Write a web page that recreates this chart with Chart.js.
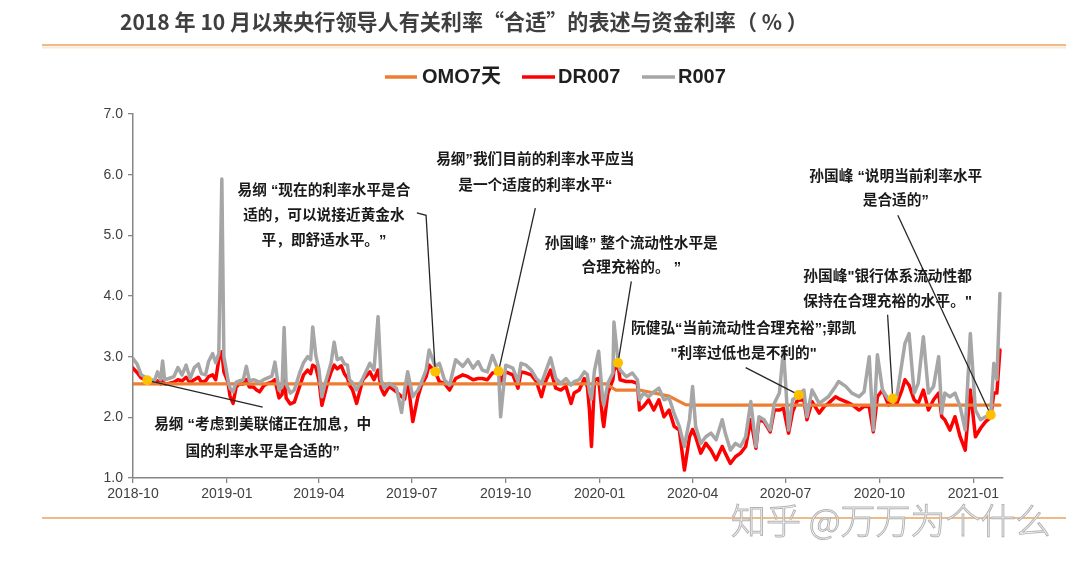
<!DOCTYPE html>
<html><head><meta charset="utf-8">
<script src="https://cdn.jsdelivr.net/npm/chart.js@4.4.1/dist/chart.umd.min.js"></script>
<style>html,body{margin:0;padding:0;background:#fff;}#wrap{width:1080px;height:568px;}</style>
</head><body><div id="wrap"><canvas id="c" width="1080" height="568"></canvas></div>
<script>
const titleText = '2018 年 10 月以来央行领导人有关利率“合适”的表述与资金利率（ % ）';
const seriesNames = ['OMO7天', 'DR007', 'R007'];
const watermark = '知乎 @万万为个什么';
const tickLabels = ['2018-10','2019-01','2019-04','2019-07','2019-10','2020-01','2020-04','2020-07','2020-10','2021-01'];
const yTicks = [1, 7, 1]; // min, max, step

const dates = [
'2018-10-01','2018-10-05','2018-10-09','2018-10-15','2018-10-19','2018-10-22','2018-10-25','2018-10-28','2018-10-30','2018-11-01','2018-11-05','2018-11-10','2018-11-14','2018-11-18','2018-11-22','2018-11-26','2018-11-30','2018-12-04','2018-12-07','2018-12-11','2018-12-14','2018-12-18','2018-12-21','2018-12-24','2018-12-27','2018-12-29',
'2019-01-02','2019-01-04','2019-01-07','2019-01-10','2019-01-13','2019-01-17','2019-01-20','2019-01-23','2019-01-27','2019-01-30',
'2019-02-02','2019-02-06','2019-02-10','2019-02-14','2019-02-17','2019-02-21','2019-02-24','2019-02-26','2019-02-28',
'2019-03-04','2019-03-08','2019-03-13','2019-03-17','2019-03-21','2019-03-24','2019-03-26','2019-03-29',
'2019-04-01','2019-04-04','2019-04-07','2019-04-10','2019-04-13','2019-04-16','2019-04-19','2019-04-23','2019-04-26','2019-04-29',
'2019-05-01','2019-05-04','2019-05-08','2019-05-14','2019-05-21','2019-05-25','2019-05-29',
'2019-06-01','2019-06-04','2019-06-09','2019-06-16','2019-06-21','2019-06-24','2019-06-27',
'2019-07-02','2019-07-07','2019-07-10','2019-07-15','2019-07-18','2019-07-24','2019-07-28',
'2019-08-02','2019-08-07','2019-08-13','2019-08-20','2019-08-25','2019-08-30',
'2019-09-04','2019-09-08','2019-09-13','2019-09-18','2019-09-24','2019-09-26',
'2019-10-01','2019-10-08','2019-10-13','2019-10-16','2019-10-21','2019-10-26','2019-10-31',
'2019-11-05','2019-11-09','2019-11-14','2019-11-19','2019-11-24','2019-11-29',
'2019-12-04','2019-12-07','2019-12-12','2019-12-17','2019-12-20','2019-12-22','2019-12-24','2019-12-27','2019-12-31',
'2020-01-04','2020-01-05','2020-01-09','2020-01-14','2020-01-15','2020-01-19','2020-01-21','2020-01-27',
'2020-02-02','2020-02-07','2020-02-09','2020-02-13','2020-02-18','2020-02-23','2020-02-28',
'2020-03-04','2020-03-09','2020-03-14','2020-03-19','2020-03-24','2020-03-29',
'2020-04-01','2020-04-04','2020-04-09','2020-04-14','2020-04-19','2020-04-24','2020-04-30',
'2020-05-03','2020-05-08','2020-05-13','2020-05-18','2020-05-23','2020-05-28',
'2020-06-02','2020-06-05','2020-06-10','2020-06-16','2020-06-20','2020-06-25','2020-06-29',
'2020-07-04','2020-07-08','2020-07-12','2020-07-14','2020-07-19','2020-07-22','2020-07-27',
'2020-08-03','2020-08-08','2020-08-12','2020-08-19','2020-08-22','2020-08-29',
'2020-09-04','2020-09-11','2020-09-16','2020-09-21','2020-09-25','2020-09-29',
'2020-10-04','2020-10-10','2020-10-14','2020-10-18','2020-10-23','2020-10-26','2020-10-30',
'2020-11-04','2020-11-08','2020-11-13','2020-11-18','2020-11-23','2020-11-28',
'2020-12-01','2020-12-04','2020-12-09','2020-12-14','2020-12-19','2020-12-24','2020-12-29',
'2021-01-03','2021-01-08','2021-01-13','2021-01-18','2021-01-21','2021-01-24','2021-01-27'
];

const r007 = [
2.97,2.88,2.70,2.64,2.62,2.60,2.75,2.62,2.93,2.62,2.64,2.67,2.82,2.70,2.86,2.64,2.82,2.88,2.72,2.70,2.92,3.05,2.90,3.05,5.93,3.00,
2.62,2.48,2.42,2.58,2.60,2.62,2.84,2.60,2.62,2.60,
2.58,2.62,2.65,2.68,2.91,2.45,2.50,3.48,2.55,
2.40,2.45,2.72,2.90,3.00,2.95,3.49,3.02,
2.80,2.34,2.55,2.72,2.90,3.24,2.95,2.98,2.88,2.86,
2.62,2.57,2.45,2.64,2.89,2.78,3.66,
2.62,2.48,2.56,2.48,2.08,2.45,2.75,
2.34,2.45,2.56,2.78,3.11,2.84,2.89,
2.62,2.53,2.95,2.84,2.95,2.81,
2.92,2.78,2.75,3.02,2.76,2.01,
2.86,2.81,2.59,2.89,2.86,2.78,2.64,
2.56,2.75,2.98,2.64,2.56,2.64,
2.53,2.59,2.62,2.75,2.70,2.42,2.30,2.78,3.09,
2.29,2.20,2.56,2.73,3.57,2.92,2.78,2.67,
2.73,2.62,2.29,2.40,2.34,2.42,2.48,
2.29,2.32,2.06,1.85,1.52,1.96,
2.51,1.85,1.57,1.68,1.74,1.63,1.96,
1.74,1.46,1.57,1.52,1.68,2.26,
1.52,2.01,1.96,1.79,2.23,2.40,3.11,
1.79,2.29,2.34,2.37,2.45,2.01,2.45,
2.23,2.29,2.34,2.51,2.59,2.51,
2.40,2.34,2.42,3.00,1.79,3.03,
2.45,2.29,2.31,2.34,2.89,3.22,3.38,
2.40,2.56,3.33,2.40,2.51,3.00,
2.07,2.40,2.34,2.40,2.18,1.79,3.38,
2.12,1.96,2.01,2.04,2.89,2.62,4.04
];

const dr007 = [
2.81,2.74,2.65,2.61,2.58,2.56,2.60,2.55,2.60,2.55,2.56,2.58,2.62,2.60,2.66,2.57,2.62,2.66,2.58,2.60,2.67,2.70,2.62,2.95,3.08,2.75,
2.58,2.35,2.23,2.50,2.55,2.55,2.62,2.50,2.50,2.45,
2.42,2.52,2.56,2.58,2.62,2.32,2.38,2.70,2.32,
2.22,2.25,2.50,2.70,2.78,2.72,2.86,2.83,
2.62,2.20,2.40,2.60,2.75,2.86,2.80,2.85,2.72,2.65,
2.53,2.45,2.23,2.62,2.75,2.62,2.78,
2.48,2.37,2.51,2.42,2.34,2.30,2.62,
1.93,2.34,2.51,2.67,2.86,2.75,2.59,
2.56,2.45,2.64,2.70,2.67,2.62,
2.64,2.64,2.62,2.73,2.75,2.59,
2.75,2.70,2.48,2.75,2.73,2.70,2.59,
2.34,2.59,2.78,2.48,2.45,2.51,
2.23,2.40,2.45,2.64,2.50,2.12,1.52,2.62,2.64,
1.96,1.85,2.40,2.62,2.78,2.86,2.62,2.59,
2.59,2.56,2.12,2.18,2.29,2.12,2.29,
2.01,2.12,1.85,1.79,1.13,1.68,
1.80,1.68,1.41,1.57,1.46,1.30,1.52,
1.41,1.24,1.35,1.41,1.52,1.96,
1.49,1.96,1.93,1.76,2.12,2.12,2.15,
1.74,2.09,2.26,2.28,2.29,1.96,2.26,
2.07,2.18,2.23,2.34,2.31,2.26,
2.21,2.12,2.18,2.18,1.76,2.34,
2.45,2.20,2.28,2.23,2.45,2.62,2.53,
2.29,2.23,2.45,2.12,2.29,2.40,
2.01,1.96,1.79,2.01,1.68,1.46,2.45,
1.68,1.82,1.93,2.00,2.40,2.40,3.11
];

const omoDates  = ['2018-10-01','2020-01-07','2020-01-17','2020-02-09','2020-03-09','2020-03-25','2020-04-02','2021-01-27'];
const omoValues = [2.55, 2.55, 2.45, 2.45, 2.35, 2.21, 2.20, 2.20];

// remarks: marked point (date, value), text anchor and leader start in chart units
const notes = [
 {date:'2018-10-15', value:2.61, textDate:'2019-02-05', textValue:1.87, lineGap:27, from:['2019-02-05',2.17],
  lines:['易纲 “考虑到美联储正在加息，中','国的利率水平是合适的”']},
 {date:'2019-07-24', value:2.75, textDate:'2019-04-06', textValue:5.73, lineGap:25, from:['2019-07-06',5.37], elbow:['2019-07-15',5.33],
  lines:['易纲 “现在的利率水平是合','适的，可以说接近黄金水','平，即舒适水平。”']},
 {date:'2019-09-24', value:2.76, textDate:'2019-10-30', textValue:6.24, lineGap:26, from:['2019-10-30',5.45],
  lines:['易纲”我们目前的利率水平应当','是一个适度的利率水平“']},
 {date:'2020-01-19', value:2.90, textDate:'2020-02-01', textValue:4.86, lineGap:24, from:['2020-02-01',4.24],
  lines:['孙国峰” 整个流动性水平是','合理充裕的。 ”']},
 {date:'2020-07-14', value:2.37, textDate:'2020-05-21', textValue:3.46, lineGap:25, from:['2020-05-23',2.82],
  lines:['阮健弘“当前流动性合理充裕”;郭凯','"利率过低也是不利的"']},
 {date:'2020-10-14', value:2.31, textDate:'2020-10-09', textValue:4.31, lineGap:25, from:['2020-10-09',3.69],
  lines:['孙国峰"银行体系流动性都','保持在合理充裕的水平。"']},
 {date:'2021-01-18', value:2.04, textDate:'2020-10-17', textValue:5.96, lineGap:24, from:['2020-10-19',5.33],
  lines:['孙国峰 “说明当前利率水平','是合适的”']}
];

const BASE = Date.UTC(2018, 9, 1);
function dayOf(s){ const p = s.split('-').map(Number); return (Date.UTC(p[0], p[1]-1, p[2] || 1) - BASE) / 864e5; }
const tickDays = tickLabels.map(s => dayOf(s + '-01'));
const xMax = dayOf('2021-01-30');

const COLORS = {omo:'#ED7D31', dr:'#FF0000', r:'#A6A6A6', dot:'#FFC000', axis:'#868686', text:'#404040', rule:'#E9A35F'};
const LATIN = '"Liberation Sans", "Noto Sans CJK SC", sans-serif';
const CJK = '"Noto Sans CJK SC", sans-serif';

const decor = {
  id:'decor',
  beforeDatasetDraw(chart, args){
    if (args.index !== 3) return;
    const ctx = chart.ctx, xs = chart.scales.x, ys = chart.scales.y;
    const P = (d, v) => [xs.getPixelForValue(dayOf(d)), ys.getPixelForValue(v)];
    ctx.save();
    ctx.strokeStyle = '#262626'; ctx.lineWidth = 1.3;
    notes.forEach(n => {
      ctx.beginPath();
      const a = P(n.from[0], n.from[1]); ctx.moveTo(a[0], a[1]);
      if (n.elbow) { const e = P(n.elbow[0], n.elbow[1]); ctx.lineTo(e[0], e[1]); }
      const b = P(n.date, n.value); ctx.lineTo(b[0], b[1]);
      ctx.stroke();
    });
    ctx.restore();
  },
  afterDatasetsDraw(chart){
    const ctx = chart.ctx, xs = chart.scales.x, ys = chart.scales.y;
    ctx.save();
    ctx.fillStyle = '#1a1a1a';
    ctx.font = 'bold 14.7px ' + LATIN;
    ctx.textAlign = 'center'; ctx.textBaseline = 'middle';
    notes.forEach(n => {
      const x = xs.getPixelForValue(dayOf(n.textDate));
      const y = ys.getPixelForValue(n.textValue);
      n.lines.forEach((t, i) => ctx.fillText(t, x, y + i * n.lineGap));
    });
    ctx.restore();
  },
  afterDraw(chart){
    const ctx = chart.ctx;
    ctx.save();
    // title
    ctx.fillStyle = '#3f3f3f';
    ctx.textAlign = 'left'; ctx.textBaseline = 'middle';
    ctx.font = 'bold 20px ' + CJK;
    const w = ctx.measureText(titleText).width;
    const fs = 20 * 688 / w;
    ctx.font = 'bold ' + fs.toFixed(2) + 'px ' + CJK;
    ctx.fillText(titleText, 120, 22);
    // rules
    ctx.strokeStyle = COLORS.rule; ctx.lineWidth = 1.6;
    ctx.beginPath(); ctx.moveTo(42, 45); ctx.lineTo(1066, 45); ctx.stroke();
    ctx.strokeStyle = 'rgba(233,163,95,0.25)'; ctx.lineWidth = 2;
    ctx.beginPath(); ctx.moveTo(42, 47.5); ctx.lineTo(1066, 47.5); ctx.stroke();
    ctx.strokeStyle = COLORS.rule; ctx.lineWidth = 1.6;
    ctx.beginPath(); ctx.moveTo(42, 518); ctx.lineTo(1066, 518); ctx.stroke();
    // legend
    const items = [[COLORS.omo, 385, 417, 422], [COLORS.dr, 522, 555, 558], [COLORS.r, 642, 675, 678]];
    ctx.font = 'bold 20px ' + LATIN;
    ctx.fillStyle = '#1f1f1f';
    items.forEach((it, i) => {
      ctx.strokeStyle = it[0]; ctx.lineWidth = 3.5;
      ctx.beginPath(); ctx.moveTo(it[1], 77); ctx.lineTo(it[2], 77); ctx.stroke();
      ctx.fillText(seriesNames[i], it[3], 77);
    });
    // watermark
    ctx.font = '300 35px ' + CJK;
    ctx.fillStyle = 'rgba(255,255,255,0.85)';
    ctx.strokeStyle = '#b4b4b4'; ctx.lineWidth = 1;
    ctx.fillText(watermark, 731, 521);
    ctx.strokeText(watermark, 731, 521);
    ctx.restore();
  }
};

const toXY = (ds, vs) => ds.map((d, i) => ({x: dayOf(d), y: vs[i]}));
const lineStyle = {pointRadius:0, tension:0, borderJoinStyle:'round', borderCapStyle:'round', fill:false};

new Chart(document.getElementById('c'), {
  type:'line',
  data:{ datasets:[
    Object.assign({label:seriesNames[1], data:toXY(dates, dr007), borderColor:COLORS.dr, borderWidth:3.5, order:3}, lineStyle),
    Object.assign({label:seriesNames[0], data:toXY(omoDates, omoValues), borderColor:COLORS.omo, borderWidth:3.2, order:2}, lineStyle),
    Object.assign({label:seriesNames[2], data:toXY(dates, r007), borderColor:COLORS.r, borderWidth:3.5, order:1}, lineStyle),
    {label:'marks', data:notes.map(n => ({x:dayOf(n.date), y:n.value})), showLine:false, pointRadius:5,
     pointBackgroundColor:COLORS.dot, pointBorderColor:COLORS.dot, pointBorderWidth:0, order:0}
  ]},
  options:{
    responsive:false, devicePixelRatio:1, animation:false, events:[],
    layout:{padding:{left:0, right:77, top:114, bottom:0}},
    plugins:{legend:{display:false}, title:{display:false}, tooltip:{enabled:false}},
    scales:{
      x:{type:'linear', min:0, max:xMax,
        afterBuildTicks:s => { s.ticks = tickDays.map(v => ({value:v})); },
        afterFit:s => { s.height = 90; },
        ticks:{autoSkip:false, maxRotation:0, padding:3, color:COLORS.text, font:{family:LATIN, size:14},
          callback:(v) => tickLabels[tickDays.indexOf(v)] || ''},
        grid:{drawOnChartArea:false, drawTicks:true, tickLength:5, color:COLORS.axis, lineWidth:1.3},
        border:{display:true, color:COLORS.axis, width:1.5}},
      y:{type:'linear', min:yTicks[0], max:yTicks[1],
        afterFit:s => { s.width = 133; },
        ticks:{stepSize:yTicks[2], padding:5, color:COLORS.text, font:{family:LATIN, size:14},
          callback:v => v.toFixed(1)},
        grid:{drawOnChartArea:false, drawTicks:true, tickLength:5, color:COLORS.axis, lineWidth:1.3},
        border:{display:true, color:COLORS.axis, width:1.5}}
    }
  },
  plugins:[decor]
});
</script></body></html>
